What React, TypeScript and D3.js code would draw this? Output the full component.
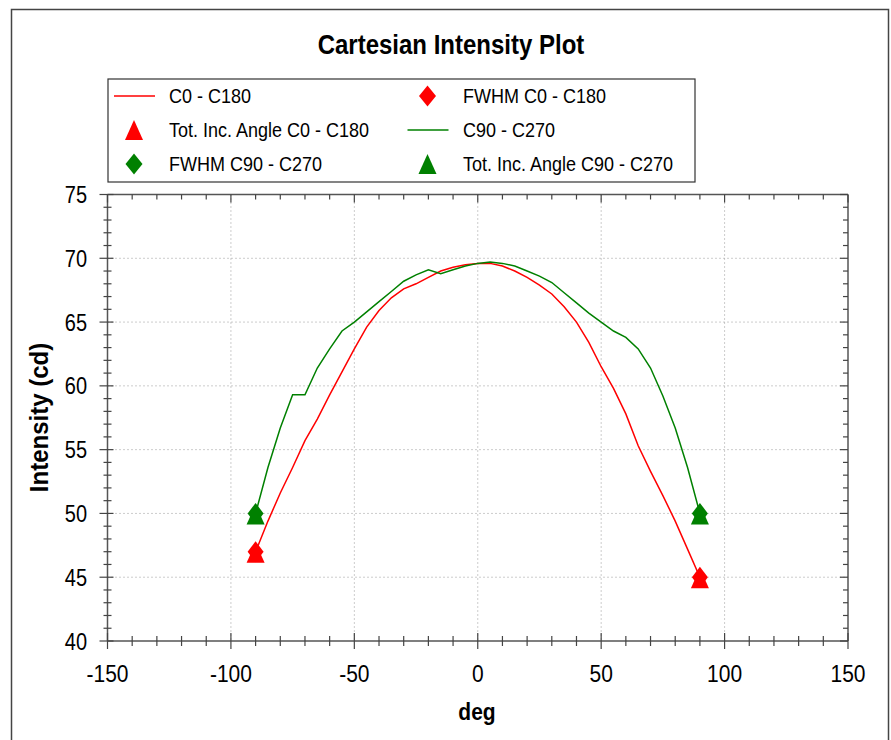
import React from 'react';
import * as d3 from 'd3';

// angles in degrees, one sample every 5 deg
const angles = [
  -90, -85, -80, -75, -70, -65, -60, -55, -50, -45, -40, -35, -30, -25, -20, -15, -10, -5,
  0, 5, 10, 15, 20, 25, 30, 35, 40, 45, 50, 55, 60, 65, 70, 75, 80, 85, 90,
];
const c0c180 = [
  47.0, 49.4, 51.6, 53.6, 55.7, 57.4, 59.3, 61.1, 62.9, 64.6, 65.9, 66.9, 67.6, 68.0, 68.5, 69.0, 69.3, 69.5,
  69.6, 69.6, 69.4, 69.0, 68.5, 67.9, 67.2, 66.2, 65.0, 63.4, 61.5, 59.8, 57.8, 55.3, 53.3, 51.4, 49.4, 47.2, 45.0,
];
const c90c270 = [
  50.0, 53.6, 56.7, 59.3, 59.3, 61.4, 62.9, 64.3, 65.0, 65.8, 66.6, 67.4, 68.2, 68.7, 69.1, 68.8, 69.1, 69.4,
  69.6, 69.7, 69.6, 69.4, 69.0, 68.6, 68.1, 67.3, 66.5, 65.7, 65.0, 64.3, 63.8, 62.9, 61.4, 59.2, 56.7, 53.6, 50.0,
];
// marker points [deg, cd]
const fwhmC0 = [[-90, 47.0], [90, 45.0]];
const totC0 = [[-90, 47.0], [90, 45.0]];
const fwhmC90 = [[-90, 50.0], [90, 50.0]];
const totC90 = [[-90, 50.0], [90, 50.0]];

const xMajor = [-150, -100, -50, 0, 50, 100, 150];
const yMajor = [40, 45, 50, 55, 60, 65, 70, 75];

const RED = '#ff0000';
const GREEN = '#008000';
const AXIS = '#555';
const FONT = 'Liberation Sans, Arial, sans-serif';

const legendItems = [
  { label: 'C0 - C180', color: RED, kind: 'line' },
  { label: 'FWHM C0 - C180', color: RED, kind: 'diamond' },
  { label: 'Tot. Inc. Angle C0 - C180', color: RED, kind: 'triangle' },
  { label: 'C90 - C270', color: GREEN, kind: 'line' },
  { label: 'FWHM C90 - C270', color: GREEN, kind: 'diamond' },
  { label: 'Tot. Inc. Angle C90 - C270', color: GREEN, kind: 'triangle' },
];

const diamond = (w: number, h: number) => `M0,${-h / 2}L${w / 2},0L0,${h / 2}L${-w / 2},0Z`;
const triangle = (w: number, h: number) => `M0,${-h / 2 - 0.5}L${w / 2},${h / 2 + 0.5}L${-w / 2},${h / 2 + 0.5}Z`;

export default function App() {
  const left = 107.5, right = 848, top = 194.5, bottom = 641;

  const x = d3.scaleLinear().domain([-150, 150]).range([left, right]);
  const y = d3.scaleLinear().domain([40, 75]).range([bottom, top]);

  const xMinor = d3.range(-150, 151, 10).filter(v => !xMajor.includes(v));
  const yMinor = d3.range(40, 76, 1).filter(v => !yMajor.includes(v));

  const line = d3.line<number>()
    .x((_, i) => x(angles[i]))
    .y(d => y(d));

  return (
    <svg width={891} height={740} style={{ position: 'absolute', left: 0, top: 0, background: '#fff' }}
      fontFamily={FONT}>
      <rect x={0} y={0} width={891} height={740} fill="#fff" />
      {/* outer frame */}
      <rect x={11.5} y={9.5} width={877} height={760} fill="none" stroke="#444" strokeWidth={1.5} />

      <text transform="translate(451,54) scale(1,1.15)" textAnchor="middle" fontSize={24} fontWeight="bold" fill="#000">
        Cartesian Intensity Plot
      </text>

      {/* legend */}
      <rect x={108} y={79} width={587} height={103} fill="#fff" stroke="#333" strokeWidth={1.2} />
      {legendItems.map((it, i) => {
        const col = i % 2, row = Math.floor(i / 2);
        const cx = col === 0 ? 134 : 427.5;
        const cy = 96 + row * 34;
        const tx = col === 0 ? 169 : 463;
        return (
          <g key={it.label}>
            {it.kind === 'line' && (
              <line x1={cx - 20} x2={cx + 21} y1={cy} y2={cy} stroke={it.color} strokeWidth={1.5} />
            )}
            {it.kind === 'diamond' && (
              <path d={diamond(17, 21)} transform={`translate(${cx},${cy})`} fill={it.color} />
            )}
            {it.kind === 'triangle' && (
              <path d={triangle(18, 19)} transform={`translate(${cx},${cy})`} fill={it.color} />
            )}
            <text transform={`translate(${tx},${cy + 7}) scale(1,1.08)`} fontSize={18} fill="#000">{it.label}</text>
          </g>
        );
      })}

      {/* grid */}
      <g stroke="#999" strokeWidth={1} strokeDasharray="1,3">
        {xMajor.slice(1, -1).map(v => (
          <line key={'gx' + v} x1={x(v)} x2={x(v)} y1={top} y2={bottom} />
        ))}
        {yMajor.slice(1, -1).map(v => (
          <line key={'gy' + v} x1={left} x2={right} y1={y(v)} y2={y(v)} />
        ))}
      </g>

      {/* axes frame */}
      <g stroke={AXIS} strokeWidth={1.5} fill="none">
        <line x1={left} x2={right} y1={bottom} y2={bottom} />
        <line x1={left} x2={right} y1={top} y2={top} />
        <line x1={left} x2={left} y1={top} y2={bottom} />
        <line x1={right} x2={right} y1={top} y2={bottom} />
      </g>
      <g stroke="#444" strokeWidth={1.2}>
        {xMajor.map(v => (
          <g key={'xt' + v}>
            <line x1={x(v)} x2={x(v)} y1={bottom - 8} y2={bottom + 8} />
            <line x1={x(v)} x2={x(v)} y1={top} y2={top + 8} />
          </g>
        ))}
        {xMinor.map(v => (
          <g key={'xm' + v}>
            <line x1={x(v)} x2={x(v)} y1={bottom - 5} y2={bottom + 5} />
            <line x1={x(v)} x2={x(v)} y1={top} y2={top + 5} />
          </g>
        ))}
        {yMajor.map(v => (
          <g key={'yt' + v}>
            <line x1={left - 8} x2={left + 6} y1={y(v)} y2={y(v)} />
            <line x1={right - 8} x2={right} y1={y(v)} y2={y(v)} />
          </g>
        ))}
        {yMinor.map(v => (
          <g key={'ym' + v}>
            <line x1={left - 4} x2={left + 4} y1={y(v)} y2={y(v)} />
            <line x1={right - 5} x2={right} y1={y(v)} y2={y(v)} />
          </g>
        ))}
      </g>

      {/* tick labels */}
      {xMajor.map(v => (
        <text key={'xl' + v} transform={`translate(${x(v)},681.5) scale(1,1.18)`} textAnchor="middle"
          fontSize={21} fill="#000">{v}</text>
      ))}
      {yMajor.map(v => (
        <text key={'yl' + v} transform={`translate(87,${y(v) + 8.5}) scale(1,1.2)`} textAnchor="end"
          fontSize={20} fill="#000">{v}</text>
      ))}

      {/* axis titles */}
      <text transform="translate(477,720) scale(1,1.1)" textAnchor="middle" fontSize={21} fontWeight="bold" fill="#000">deg</text>
      <text transform={`translate(48,417.5) rotate(-90) scale(1,1.1)`} textAnchor="middle" fontSize={24}
        fontWeight="bold" fill="#000">Intensity (cd)</text>

      {/* curves */}
      <path d={line(c0c180) || ''} fill="none" stroke={RED} strokeWidth={1.5} />
      <path d={line(c90c270) || ''} fill="none" stroke={GREEN} strokeWidth={1.5} />

      {/* markers */}
      {totC0.map(([a, v], i) => (
        <path key={'tr' + i} d={triangle(18, 19)} transform={`translate(${x(a)},${y(v) + 1})`} fill={RED} />
      ))}
      {fwhmC0.map(([a, v], i) => (
        <path key={'dr' + i} d={diamond(16, 21)} transform={`translate(${x(a)},${y(v)})`} fill={RED} />
      ))}
      {totC90.map(([a, v], i) => (
        <path key={'tg' + i} d={triangle(18, 19)} transform={`translate(${x(a)},${y(v) + 1})`} fill={GREEN} />
      ))}
      {fwhmC90.map(([a, v], i) => (
        <path key={'dg' + i} d={diamond(16, 21)} transform={`translate(${x(a)},${y(v)})`} fill={GREEN} />
      ))}
    </svg>
  );
}
